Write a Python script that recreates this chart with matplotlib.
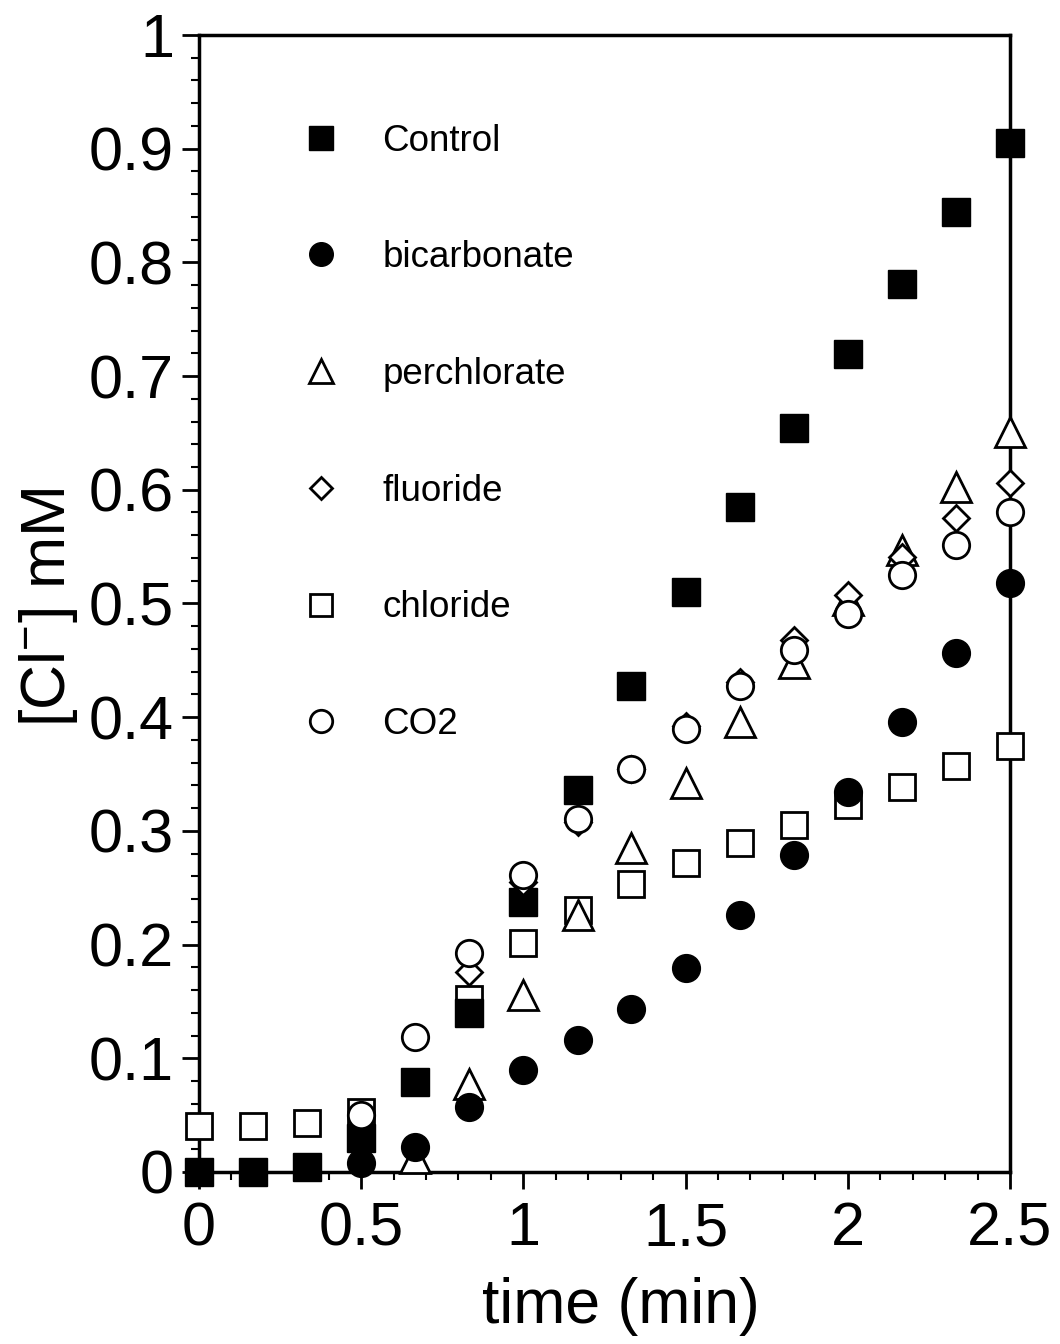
import matplotlib
matplotlib.use('Agg')
import matplotlib.pyplot as plt
from matplotlib.ticker import MultipleLocator

plt.rcParams['font.family'] = ['Liberation Sans', 'DejaVu Sans']
plt.rcParams['mathtext.default'] = 'regular'

nan = float('nan')

# sampling times (min), every 10 s
time = [0, 0.167, 0.333, 0.5, 0.667, 0.833, 1.0, 1.167, 1.333, 1.5,
        1.667, 1.833, 2.0, 2.167, 2.333, 2.5]

# chloride release [Cl-] (mM) (nan = hidden under other marks)
control = [0.0, 0.0, 0.004, 0.03, 0.079, 0.14, 0.237, 0.336, 0.427, 0.51,
           0.585, 0.654, 0.719, 0.781, 0.844, 0.905]
bicarbonate = [nan, nan, nan, 0.008, 0.022, 0.057, 0.09, 0.116, 0.143, 0.179,
               0.226, 0.279, 0.334, 0.396, 0.456, 0.518]
perchlorate = [nan, nan, nan, nan, 0.012, 0.077, 0.156, 0.226, 0.285, 0.342,
               0.396, 0.448, 0.503, 0.547, 0.602, 0.651]
fluoride = [nan, nan, nan, nan, nan, 0.176, 0.255, 0.308, 0.354, 0.392,
            0.431, 0.468, 0.507, 0.541, 0.575, 0.606]
chloride = [0.04, 0.04, 0.043, 0.053, nan, 0.152, 0.201, 0.23, 0.253, 0.272,
            0.289, 0.305, 0.323, 0.339, 0.357, 0.375]
co2 = [nan, nan, nan, 0.05, 0.119, 0.193, 0.261, 0.31, 0.354, 0.39,
       0.427, 0.459, 0.491, 0.525, 0.551, 0.58]

fig = plt.figure(figsize=(10.6, 13.44), dpi=100)
ax = fig.add_axes([0.1877, 0.128, 0.7651, 0.846])

ax.plot(time, chloride, 's', mfc='white', mec='black', mew=2, ms=19, label='chloride', zorder=3)
ax.plot(time, control, 's', color='black', ms=20, label='Control', zorder=4)
ax.plot(time, perchlorate, '^', mfc='white', mec='black', mew=2, ms=21, label='perchlorate', zorder=5)
ax.plot(time, fluoride, 'D', mfc='white', mec='black', mew=2, ms=13, label='fluoride', zorder=6)
ax.plot(time, co2, 'o', mfc='white', mec='black', mew=2, ms=19, label='CO2', zorder=7)
ax.plot(time, bicarbonate, 'o', color='black', ms=20, label='bicarbonate', zorder=8)

ax.set_xlim(0, 2.5)
ax.set_ylim(0, 1)
ax.xaxis.set_minor_locator(MultipleLocator(0.1))
ax.yaxis.set_minor_locator(MultipleLocator(0.02))
ax.set_xticks([0, 0.5, 1, 1.5, 2, 2.5])
ax.set_xticklabels(['0', '0.5', '1', '1.5', '2', '2.5'])
ax.set_yticks([0, 0.1, 0.2, 0.3, 0.4, 0.5, 0.6, 0.7, 0.8, 0.9, 1])
ax.set_yticklabels(['0', '0.1', '0.2', '0.3', '0.4', '0.5', '0.6', '0.7', '0.8', '0.9', '1'])

ax.tick_params(which='major', direction='out', length=12, width=2, labelsize=44)
ax.tick_params(axis='x', which='major', pad=9)
ax.tick_params(axis='y', which='major', pad=6)
ax.tick_params(which='minor', direction='out', length=6, width=1.5)
for sp in ax.spines.values():
    sp.set_linewidth(2.5)

for ln in ax.lines:
    ln.set_clip_on(False)

ax.set_xlabel('time (min)', fontsize=45)
ax.xaxis.set_label_coords(0.52, -0.092)
ax.set_ylabel('[Cl$^{-}$] mM', fontsize=45)
ax.yaxis.set_label_coords(-0.147, 0.497)

# legend in the upper left of the plot
handles, labels = ax.get_legend_handles_labels()
order = ['Control', 'bicarbonate', 'perchlorate', 'fluoride', 'chloride', 'CO2']
hl = dict(zip(labels, handles))
ax.legend([hl[k] for k in order], order, loc='upper left', bbox_to_anchor=(0.133, 0.922),
          frameon=False, fontsize=26.5, numpoints=1, handlelength=0.75, handletextpad=1.3,
          labelspacing=2.22, borderpad=0, borderaxespad=0, markerscale=0.85)

plt.savefig('out.png', dpi=100)
